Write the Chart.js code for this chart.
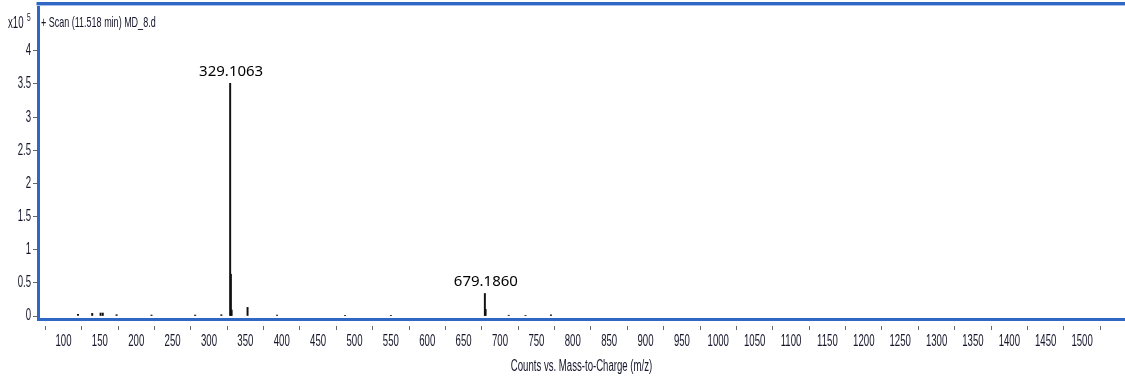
<!DOCTYPE html>
<html>
<head>
<meta charset="utf-8">
<script src="https://cdn.jsdelivr.net/npm/chart.js@4.4.1/dist/chart.umd.min.js"></script>
<style>
  html, body { margin: 0; padding: 0; background: #ffffff; }
  #wrap { position: relative; width: 1125px; height: 380px; }
</style>
</head>
<body>
<div id="wrap"><canvas id="spectrum"></canvas></div>
<script>
// Mass spectrum: m/z of each centroid and its abundance (counts)
const mzValues = [120.0, 139.5, 151.0, 154.0, 173.0, 221.0, 281.0, 317.0,
                  329.1063, 330.1097, 331.1120, 353.0, 393.5, 487.0, 550.0,
                  679.1860, 680.1893, 712.0, 735.0, 770.0];
const intensities = [2500, 4000, 4500, 4500, 2000, 1500, 1500, 2000,
                     351000, 63000, 9000, 13000, 1500, 1000, 1000,
                     34000, 10000, 1200, 1000, 1800];
// Peaks annotated with their m/z
const labelledPeaks = [329.1063, 679.1860];

// Axis ticks
const xTickValues = [100, 150, 200, 250, 300, 350, 400, 450, 500, 550, 600, 650, 700, 750,
                     800, 850, 900, 950, 1000, 1050, 1100, 1150, 1200, 1250, 1300, 1350,
                     1400, 1450, 1500, 1550];
const xLabelMax = 1500;
const yTickValues = [0, 50000, 100000, 150000, 200000, 250000, 300000, 350000, 400000];
const yExponent = 5;

const headerText = '+ Scan (11.518 min) MD_8.d';
const xTitle = 'Counts vs. Mass-to-Charge (m/z)';

const FRAME_BLUE = '#2f68c4';
const TEXT_COLOR = '#15152b';
const SANS = "'Liberation Sans', Arial, sans-serif";
const CONDENSE = 0.6;   // horizontal squeeze for axis and header text

const points = mzValues.map((mz, i) => ({ x: mz, y: intensities[i] }));

// Canvas context whose text can be drawn horizontally condensed
const canvas = document.getElementById('spectrum');
const ctx2d = canvas.getContext('2d');
const nativeFillText = ctx2d.fillText.bind(ctx2d);
ctx2d.condense = 1;
ctx2d.fillText = function (text, x, y, maxWidth) {
  if (this.condense === 1) {
    return maxWidth === undefined ? nativeFillText(text, x, y) : nativeFillText(text, x, y, maxWidth);
  }
  this.save();
  this.translate(x, y);
  this.scale(this.condense, 1);
  nativeFillText(text, 0, 0);
  this.restore();
};

const framePlugin = {
  id: 'frameAndNotes',
  beforeDraw(chart) {
    chart.ctx.condense = CONDENSE;
  },
  afterDraw(chart) {
    const { ctx, chartArea } = chart;
    ctx.save();
    // top edge of the plot frame
    ctx.fillStyle = '#a9c1ea';
    ctx.fillRect(chartArea.left - 1.5, chartArea.top + 1, chartArea.right - chartArea.left + 2, 1);
    ctx.fillStyle = FRAME_BLUE;
    ctx.fillRect(chartArea.left - 1.5, chartArea.top - 2, chartArea.right - chartArea.left + 2, 3);

    // exponent of the y scale
    ctx.fillStyle = TEXT_COLOR;
    ctx.textBaseline = 'alphabetic';
    ctx.textAlign = 'left';
    ctx.font = '16px ' + SANS;
    ctx.fillText('x10', 8, 28);
    ctx.font = '11px ' + SANS;
    ctx.fillText(String(yExponent), 27, 21);

    // scan header
    ctx.font = '15px ' + SANS;
    ctx.fillText(headerText, 41, 27);

    // peak annotations (regular width)
    ctx.condense = 1;
    const meta = chart.getDatasetMeta(0);
    ctx.font = "15px 'Noto Sans', 'Open Sans', sans-serif";
    ctx.textAlign = 'center';
    ctx.fillStyle = '#000';
    labelledPeaks.forEach(mz => {
      const idx = mzValues.indexOf(mz);
      const bar = meta.data[idx];
      ctx.fillText(mz.toFixed(4), bar.x + 1, bar.y - 7);
    });
    ctx.restore();
  }
};

new Chart(canvas, {
  type: 'bar',
  data: {
    datasets: [{
      data: points,
      backgroundColor: '#111111',
      borderWidth: 0,
      barThickness: 1.3,
      grouped: false
    }]
  },
  options: {
    responsive: true,
    maintainAspectRatio: false,
    animation: false,
    layout: { padding: { top: 4, left: 0, right: 0, bottom: 0 } },
    plugins: {
      legend: { display: false },
      tooltip: { enabled: false }
    },
    scales: {
      x: {
        type: 'linear',
        min: 65,
        max: 1559,
        offset: false,
        afterBuildTicks: s => { s.ticks = xTickValues.map(v => ({ value: v })); },
        afterFit: s => { s.height = 61; s.paddingLeft = 0; s.paddingRight = 0; },
        grid: {
          drawOnChartArea: false,
          drawTicks: true,
          tickLength: 11,
          tickWidth: 1,
          tickColor: '#666',
          tickBorderDash: [0, 5, 6, 100]
        },
        border: { display: true, color: FRAME_BLUE, width: 3 },
        ticks: {
          autoSkip: false,
          maxRotation: 0,
          padding: 2,
          color: TEXT_COLOR,
          font: { family: SANS, size: 16 },
          callback: v => (v <= xLabelMax ? String(v) : '')
        },
        title: {
          display: true,
          text: xTitle,
          color: TEXT_COLOR,
          font: { family: SANS, size: 16 },
          padding: { top: 0, bottom: 4 }
        }
      },
      y: {
        min: -4500,
        max: 470600,
        afterBuildTicks: s => { s.ticks = yTickValues.map(v => ({ value: v })); },
        afterFit: s => { s.width = 38; s.paddingTop = 0; s.paddingBottom = 0; },
        grid: {
          drawOnChartArea: false,
          drawTicks: true,
          tickLength: 5,
          tickColor: '#666'
        },
        border: { display: true, color: FRAME_BLUE, width: 3 },
        ticks: {
          padding: 2,
          color: TEXT_COLOR,
          font: { family: SANS, size: 16 },
          callback: v => String(v / Math.pow(10, yExponent))
        }
      }
    }
  },
  plugins: [framePlugin]
});
</script>
</body>
</html>
